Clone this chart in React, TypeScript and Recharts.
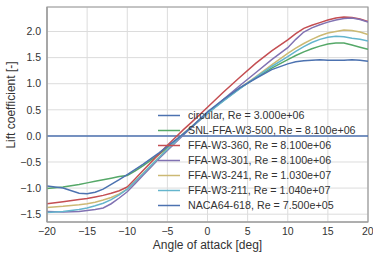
import React from 'react';
import { LineChart, Line, XAxis, YAxis, CartesianGrid, ReferenceArea } from 'recharts';

const aoa = [-20, -18, -16, -15, -14, -13, -12, -11, -10, -9, -8, -7, -6, -5, -4, -3, -2, 0, 2, 4, 6, 8, 10, 11, 12, 13, 14, 15, 16, 17, 18, 19, 20];

const circular = aoa.map(() => 0);
const snl500 = [-1.01, -0.98, -0.93, -0.90, -0.87, -0.84, -0.81, -0.78, -0.76, -0.67, -0.57, -0.46, -0.35, -0.23, -0.10, 0.03, 0.16, 0.44, 0.68, 0.91, 1.11, 1.30, 1.46, 1.54, 1.61, 1.67, 1.72, 1.76, 1.78, 1.78, 1.74, 1.70, 1.66];
const ffa360 = [-1.30, -1.26, -1.22, -1.20, -1.17, -1.14, -1.10, -1.05, -0.98, -0.82, -0.66, -0.50, -0.34, -0.18, -0.03, 0.12, 0.26, 0.55, 0.84, 1.12, 1.39, 1.63, 1.84, 1.96, 2.06, 2.12, 2.17, 2.22, 2.26, 2.28, 2.27, 2.24, 2.19];
const ffa301 = [-1.45, -1.46, -1.45, -1.43, -1.41, -1.38, -1.30, -1.19, -1.07, -0.91, -0.75, -0.59, -0.43, -0.28, -0.13, 0.02, 0.16, 0.43, 0.70, 0.96, 1.21, 1.46, 1.69, 1.85, 1.99, 2.07, 2.13, 2.18, 2.22, 2.25, 2.26, 2.23, 2.18];
const ffa241 = [-1.37, -1.35, -1.32, -1.30, -1.27, -1.23, -1.18, -1.11, -1.02, -0.87, -0.71, -0.56, -0.40, -0.25, -0.10, 0.05, 0.18, 0.44, 0.68, 0.91, 1.13, 1.36, 1.58, 1.68, 1.77, 1.85, 1.92, 1.97, 2.00, 2.03, 2.02, 1.99, 1.94];
const ffa211 = [-1.47, -1.45, -1.41, -1.38, -1.34, -1.29, -1.22, -1.13, -1.02, -0.87, -0.72, -0.56, -0.41, -0.26, -0.11, 0.04, 0.17, 0.43, 0.67, 0.90, 1.12, 1.33, 1.52, 1.62, 1.71, 1.79, 1.85, 1.89, 1.91, 1.90, 1.87, 1.85, 1.82];
const naca618 = [-0.96, -1.00, -1.10, -1.11, -1.08, -1.02, -0.93, -0.84, -0.74, -0.64, -0.54, -0.43, -0.32, -0.20, -0.08, 0.04, 0.17, 0.46, 0.70, 0.92, 1.10, 1.27, 1.38, 1.42, 1.44, 1.45, 1.46, 1.45, 1.45, 1.45, 1.46, 1.45, 1.43];

const xTicks = [-20, -15, -10, -5, 0, 5, 10, 15, 20];
const yTicks = [-1.5, -1.0, -0.5, 0.0, 0.5, 1.0, 1.5, 2.0];

const series = [
  { key: 'circular', name: 'circular, Re = 3.000e+06', values: circular, color: '#4C72B0' },
  { key: 'snl500', name: 'SNL-FFA-W3-500, Re = 8.100e+06', values: snl500, color: '#55A868' },
  { key: 'ffa360', name: 'FFA-W3-360, Re = 8.100e+06', values: ffa360, color: '#C44E52' },
  { key: 'ffa301', name: 'FFA-W3-301, Re = 8.100e+06', values: ffa301, color: '#8172B2' },
  { key: 'ffa241', name: 'FFA-W3-241, Re = 1.030e+07', values: ffa241, color: '#CCB974' },
  { key: 'ffa211', name: 'FFA-W3-211, Re = 1.040e+07', values: ffa211, color: '#64B5CD' },
  { key: 'naca618', name: 'NACA64-618, Re = 7.500e+05', values: naca618, color: '#4C72B0' },
];

const data = aoa.map((a, i) => {
  const row: Record<string, number> = { aoa: a };
  series.forEach((s) => { row[s.key] = s.values[i]; });
  return row;
});

const fmt = (d: number) => (v: number) => v.toFixed(d).replace('-', '\u2212');
const FONT = '"Liberation Sans", Arial, sans-serif';

export default function App() {
  return (
    <div style={{ position: 'absolute', left: 0, top: 0, width: 373, height: 254, fontFamily: FONT, background: '#fff' }}>
      <LineChart width={373} height={254} data={data} margin={{ top: 7, right: 5, bottom: 0, left: 0 }}>
        <CartesianGrid stroke="#dcdcdc" strokeWidth={1} />
        <XAxis
          dataKey="aoa"
          type="number"
          domain={[-20, 20]}
          ticks={xTicks}
          tickFormatter={fmt(0)}
          height={32}
          tickLine={false}
          tickSize={6}
          tickMargin={0}
          axisLine={{ stroke: '#9a9a9a', strokeWidth: 1.2 }}
          tick={{ fill: '#333', fontSize: 10.5, fontFamily: FONT }}
          allowDataOverflow
        />
        <YAxis
          type="number"
          domain={[-1.65, 2.47]}
          ticks={yTicks}
          tickFormatter={fmt(1)}
          width={47}
          tickLine={false}
          tickSize={6}
          tickMargin={0}
          axisLine={{ stroke: '#9a9a9a', strokeWidth: 1.2 }}
          tick={{ fill: '#333', fontSize: 10.5, fontFamily: FONT }}
          allowDataOverflow
        />
        <ReferenceArea x1={-20} x2={20} y1={-1.65} y2={2.47} fill="none" stroke="#9a9a9a" strokeWidth={1.2} ifOverflow="visible" />
        {series.map((s) => (
          <Line
            key={s.key}
            dataKey={s.key}
            name={s.name}
            type="linear"
            stroke={s.color}
            strokeWidth={1.5}
            dot={false}
            activeDot={false}
            isAnimationActive={false}
          />
        ))}
      </LineChart>
      <div style={{ position: 'absolute', left: 158, top: 108, fontSize: 10.7, color: '#333', lineHeight: '15px' }}>
        {series.map((s) => (
          <div key={s.key} style={{ display: 'flex', alignItems: 'center', height: 15, whiteSpace: 'nowrap' }}>
            <svg width={22} height={15} style={{ marginRight: 8, display: 'block' }}>
              <line x1={0} x2={22} y1={7.5} y2={7.5} stroke={s.color} strokeWidth={1.5} />
            </svg>
            <span>{s.name}</span>
          </div>
        ))}
      </div>
      <div style={{ position: 'absolute', left: 0, width: 373, top: 237, textAlign: 'center', paddingLeft: 42, boxSizing: 'border-box', fontSize: 12, color: '#333', lineHeight: '16px' }}>
        Angle of attack [deg]
      </div>
      <div style={{ position: 'absolute', left: 11, top: 105, width: 0, height: 0 }}>
        <div style={{ position: 'absolute', transform: 'translate(-50%, -50%) rotate(-90deg)', whiteSpace: 'nowrap', fontSize: 12, color: '#333', lineHeight: '16px' }}>
          Lift coefficient [-]
        </div>
      </div>
    </div>
  );
}
